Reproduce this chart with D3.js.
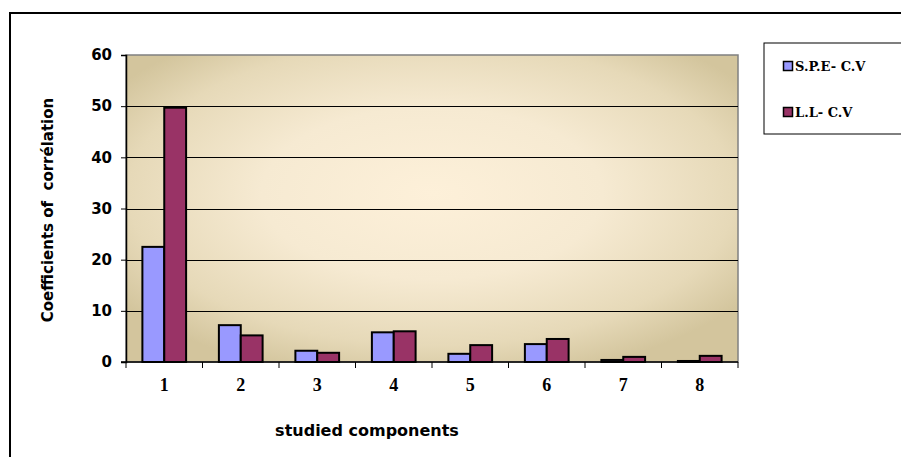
<!DOCTYPE html>
<html>
<head>
<meta charset="utf-8">
<script src="https://cdn.jsdelivr.net/npm/d3@7"></script>
<style>
  html, body { margin: 0; padding: 0; background: #fff; }
  svg { display: block; }
</style>
</head>
<body>
<svg id="chart" width="901" height="457"></svg>
<script>
// Components on the x axis
const components = ["1", "2", "3", "4", "5", "6", "7", "8"];
// Series names and values
const seriesNames = ["S.P.E- C.V", "L.L- C.V"];
const speValues = [22.5, 7.2, 2.2, 5.8, 1.6, 3.5, 0.4, 0.2];
const llValues = [49.7, 5.2, 1.8, 6.0, 3.3, 4.5, 1.0, 1.2];
const seriesColors = ["#9999FF", "#993366"];
// Y axis ticks
const yTicks = [0, 10, 20, 30, 40, 50, 60];

const svg = d3.select("#chart");
const plot = { left: 126, right: 738, top: 55, bottom: 362 };

// Outer frame
svg.append("rect")
  .attr("x", 10).attr("y", 13)
  .attr("width", 900).attr("height", 460)
  .attr("fill", "#fff").attr("stroke", "#000").attr("stroke-width", 2);

// Plot-area gradient
const defs = svg.append("defs");
const grad = defs.append("radialGradient")
  .attr("id", "bg")
  .attr("cx", "0.5").attr("cy", "0.45").attr("r", "0.62")
  .attr("gradientUnits", "objectBoundingBox");
grad.append("stop").attr("offset", "0%").attr("stop-color", "#fdf0d9");
grad.append("stop").attr("offset", "45%").attr("stop-color", "#f6ead2");
grad.append("stop").attr("offset", "80%").attr("stop-color", "#e6d9b8");
grad.append("stop").attr("offset", "100%").attr("stop-color", "#d3c59d");

const x = d3.scaleBand().domain(components).range([plot.left, plot.right]).paddingInner(0).paddingOuter(0);
const y = d3.scaleLinear().domain([0, 60]).range([plot.bottom, plot.top]);
const gap = 1.5; // gap width relative to a bar
const barW = x.bandwidth() / (2 + gap);

svg.append("rect")
  .attr("x", plot.left).attr("y", plot.top)
  .attr("width", plot.right - plot.left).attr("height", plot.bottom - plot.top)
  .attr("fill", "url(#bg)")
  .attr("stroke", "#808080").attr("stroke-width", 1.5);

// Gridlines
svg.append("g").selectAll("line")
  .data(yTicks.filter(d => d > 0 && d < 60))
  .join("line")
  .attr("x1", plot.left).attr("x2", plot.right)
  .attr("y1", d => Math.round(y(d)) + 0.5).attr("y2", d => Math.round(y(d)) + 0.5)
  .attr("stroke", "#000").attr("stroke-width", 1);

// Bars
const series = [speValues, llValues];
series.forEach((vals, si) => {
  svg.append("g").selectAll("rect")
    .data(components.map((c, i) => ({ c, v: vals[i] })))
    .join("rect")
    .attr("x", d => x(d.c) + barW * gap / 2 + si * barW)
    .attr("y", d => y(d.v))
    .attr("width", barW)
    .attr("height", d => y(0) - y(d.v))
    .attr("fill", seriesColors[si])
    .attr("stroke", "#000")
    .attr("stroke-width", 2);
});

// Y axis
const yAxis = d3.axisLeft(y).tickValues(yTicks).tickSize(5).tickPadding(9);
const gy = svg.append("g").attr("transform", `translate(${plot.left},0)`).call(yAxis);
gy.select(".domain").attr("stroke", "#000").attr("stroke-width", 1.5);
gy.selectAll(".tick line").attr("stroke", "#000").attr("stroke-width", 1);
gy.selectAll(".tick text")
  .attr("font-family", "'DejaVu Sans', sans-serif")
  .attr("font-weight", "bold").attr("font-size", 15).attr("fill", "#000");

// X axis with ticks at category boundaries
const gx = svg.append("g").attr("transform", `translate(0,${plot.bottom})`);
gx.append("line")
  .attr("x1", plot.left - 5).attr("x2", plot.right)
  .attr("y1", 0).attr("y2", 0)
  .attr("stroke", "#000").attr("stroke-width", 1.5);
const bounds = components.map(c => x(c)).concat([plot.right]);
gx.selectAll("line.tk").data(bounds).join("line").attr("class", "tk")
  .attr("x1", d => d).attr("x2", d => d)
  .attr("y1", 0).attr("y2", 6)
  .attr("stroke", "#000").attr("stroke-width", 1);
gx.selectAll("text").data(components).join("text")
  .attr("x", d => x(d) + x.bandwidth() / 2)
  .attr("y", 29)
  .attr("text-anchor", "middle")
  .attr("font-family", "'Liberation Serif', serif")
  .attr("font-weight", "bold").attr("font-size", 18)
  .text(d => d);

// Axis titles
svg.append("text")
  .attr("x", 367).attr("y", 436)
  .attr("text-anchor", "middle")
  .attr("font-family", "'DejaVu Sans', sans-serif")
  .attr("font-weight", "bold").attr("font-size", 16)
  .text("studied components");

svg.append("text")
  .attr("transform", "translate(53,210) rotate(-90)")
  .attr("text-anchor", "middle")
  .attr("font-family", "'DejaVu Sans', sans-serif")
  .attr("font-weight", "bold").attr("font-size", 15)
  .attr("xml:space", "preserve")
  .text("Coefficients of  corrélation");

// Legend
const lg = svg.append("g");
lg.append("rect")
  .attr("x", 764).attr("y", 43)
  .attr("width", 150).attr("height", 91)
  .attr("fill", "#fff").attr("stroke", "#000").attr("stroke-width", 1);
seriesNames.forEach((name, i) => {
  const cy = 66 + i * 46;
  lg.append("rect")
    .attr("x", 783.5).attr("y", cy - 4.5)
    .attr("width", 9).attr("height", 9)
    .attr("fill", seriesColors[i]).attr("stroke", "#000").attr("stroke-width", 1.5);
  lg.append("text")
    .attr("x", 795).attr("y", cy + 5)
    .attr("font-family", "'DejaVu Serif', serif")
    .attr("font-weight", "bold")
    .attr("font-size", 13)
    .text(name);
});
</script>
</body>
</html>
